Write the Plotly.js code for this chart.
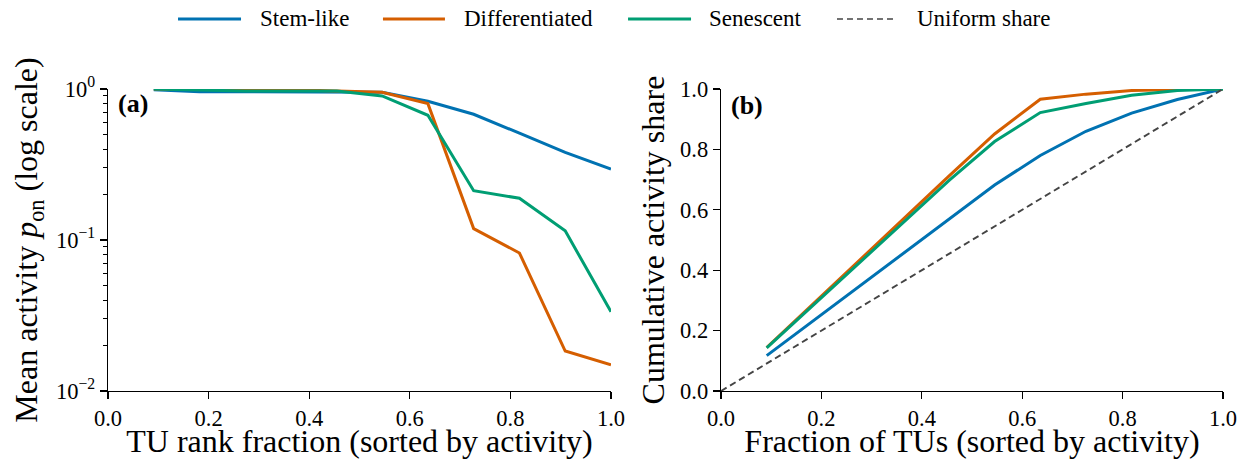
<!DOCTYPE html>
<html>
<head>
<meta charset="utf-8">
<script src="https://cdn.plot.ly/plotly-3.0.1.min.js"></script>
<style>
  html, body { margin: 0; padding: 0; background: #ffffff; }
  #chart { width: 1243px; height: 459px; }
</style>
</head>
<body>
<div id="chart"></div>
<script>
// TU rank fraction (11 transcription units, sorted by activity)
const rankFraction = [0.091, 0.182, 0.273, 0.364, 0.455, 0.545, 0.636, 0.727, 0.818, 0.909, 1.0];

// Mean activity p_on per cell state
const stemActivity  = [0.99, 0.96, 0.96, 0.96, 0.96, 0.95, 0.83, 0.68, 0.51, 0.38, 0.295];
const diffActivity  = [1.00, 0.99, 0.99, 0.99, 0.97, 0.95, 0.80, 0.119, 0.082, 0.0184, 0.0149];
const senesActivity = [1.00, 0.98, 0.97, 0.97, 0.97, 0.90, 0.67, 0.212, 0.189, 0.115, 0.0335];

// Cumulative activity share per cell state
const stemShare  = [0.117, 0.230, 0.343, 0.457, 0.570, 0.682, 0.780, 0.860, 0.920, 0.965, 1.0];
const diffShare  = [0.144, 0.287, 0.430, 0.573, 0.713, 0.851, 0.966, 0.983, 0.995, 0.998, 1.0];
const senesShare = [0.143, 0.282, 0.421, 0.559, 0.698, 0.826, 0.922, 0.952, 0.979, 0.995, 1.0];

// Uniform reference diagonal
const uniformX = [0, 1];
const uniformY = [0, 1];

const seriesNames = ['Stem-like', 'Differentiated', 'Senescent'];
const seriesColors = ['#0072B2', '#D55E00', '#009E73'];
const uniformName = 'Uniform share';
const uniformColor = '#444444';

const linearTicks = [0, 0.2, 0.4, 0.6, 0.8, 1.0];
const linearTickText = ['0.0', '0.2', '0.4', '0.6', '0.8', '1.0'];
const logTicks = [0.01, 0.1, 1];
const logTickText = ['10<sup>\u22122</sup>', '10<sup>\u22121</sup>', '10<sup>0</sup>'];

const FONT = 'Liberation Serif, Times New Roman, serif';

// minor ticks for the log axis: 2..9 in each decade
const logMinor = [];
[0.01, 0.1].forEach(function (d) {
  for (let k = 2; k <= 9; k++) logMinor.push(d * k);
});

const activitySets = [stemActivity, diffActivity, senesActivity];
const shareSets = [stemShare, diffShare, senesShare];

const traces = [];
activitySets.forEach(function (vals, i) {
  traces.push({
    x: rankFraction, y: vals, type: 'scatter', mode: 'lines',
    name: seriesNames[i], showlegend: false,
    line: { color: seriesColors[i], width: 3 },
    xaxis: 'x', yaxis: 'y'
  });
});
shareSets.forEach(function (vals, i) {
  traces.push({
    x: rankFraction, y: vals, type: 'scatter', mode: 'lines',
    name: seriesNames[i], showlegend: false,
    line: { color: seriesColors[i], width: 3 },
    xaxis: 'x2', yaxis: 'y2'
  });
});
traces.push({
  x: uniformX, y: uniformY, type: 'scatter', mode: 'lines',
  name: uniformName, showlegend: false,
  line: { color: uniformColor, width: 1.9, dash: '6.5px,4px' },
  xaxis: 'x2', yaxis: 'y2'
});

// Figure-level legend row above both panels (paper coordinates):
// sample line start/end and label start for each entry
const legendNames = seriesNames.concat([uniformName]);
const legendColors = seriesColors.concat([uniformColor]);
const legendDash = ['solid', 'solid', 'solid', '6px,4px'];
const legendWidths = [3, 3, 3, 1.6];
const legendLineX0 = [0.0628, 0.2466, 0.4664, 0.6538];
const legendLineX1 = [0.1193, 0.3022, 0.5229, 0.7067];
const legendTextX = [0.1345, 0.3175, 0.5372, 0.7238];
const legendY = 1.232;

const shapes = [];
const annotations = [];
legendNames.forEach(function (nm, i) {
  shapes.push({
    type: 'line', xref: 'paper', yref: 'paper',
    x0: legendLineX0[i], x1: legendLineX1[i], y0: legendY, y1: legendY,
    line: { color: legendColors[i], width: legendWidths[i], dash: legendDash[i] }
  });
  annotations.push({
    text: nm, xref: 'paper', yref: 'paper', x: legendTextX[i], y: legendY,
    xanchor: 'left', yanchor: 'middle', showarrow: false,
    font: { family: FONT, size: 23, color: '#000000' }
  });
});

// panel letters
annotations.push(
  { text: '<b>(a)</b>', xref: 'x domain', yref: 'y domain', x: 0.016, y: 1.005,
    xanchor: 'left', yanchor: 'top', showarrow: false,
    font: { family: FONT, size: 26, color: '#000000' } },
  { text: '<b>(b)</b>', xref: 'x2 domain', yref: 'y2 domain', x: 0.016, y: 1.0,
    xanchor: 'left', yanchor: 'top', showarrow: false,
    font: { family: FONT, size: 26, color: '#000000' } }
);

const axisBase = {
  showline: true, linecolor: '#000000', linewidth: 1.3,
  ticks: 'outside', ticklen: 7, tickwidth: 1.3, tickcolor: '#000000',
  showgrid: false, zeroline: false, mirror: false,
  tickfont: { family: FONT, size: 22.5, color: '#000000' }
};
const titleFont = { family: FONT, size: 32, color: '#000000' };

const layout = {
  width: 1243, height: 459,
  margin: { l: 108, r: 20, t: 89, b: 68, autoexpand: false },
  paper_bgcolor: '#ffffff', plot_bgcolor: '#ffffff',
  font: { family: FONT, color: '#000000' },
  showlegend: false,
  xaxis: Object.assign({}, axisBase, {
    domain: [0, 0.4511], range: [0, 1], anchor: 'y', automargin: true,
    tickvals: linearTicks, ticktext: linearTickText,
    title: { text: 'TU rank fraction (sorted by activity)', font: titleFont, standoff: 3 }
  }),
  yaxis: Object.assign({}, axisBase, {
    type: 'log', range: [-2, 0], anchor: 'x',
    tickvals: logTicks, ticktext: logTickText,
    minor: { tickvals: logMinor, ticks: 'outside', ticklen: 4, tickwidth: 1, tickcolor: '#000000', showgrid: false },
    title: { text: 'Mean activity <i>p</i><sub>on</sub> (log scale)', font: titleFont, standoff: 8 }
  }),
  xaxis2: Object.assign({}, axisBase, {
    domain: [0.5498, 1], range: [0, 1], anchor: 'y2', automargin: true,
    tickvals: linearTicks, ticktext: linearTickText,
    title: { text: 'Fraction of TUs (sorted by activity)', font: titleFont, standoff: 3 }
  }),
  yaxis2: Object.assign({}, axisBase, {
    range: [0, 1], anchor: 'x2',
    tickvals: linearTicks, ticktext: linearTickText,
    title: { text: 'Cumulative activity share', font: titleFont, standoff: 6 }
  }),
  shapes: shapes,
  annotations: annotations
};

Plotly.newPlot('chart', traces, layout, { displayModeBar: false, staticPlot: true });
</script>
</body>
</html>
